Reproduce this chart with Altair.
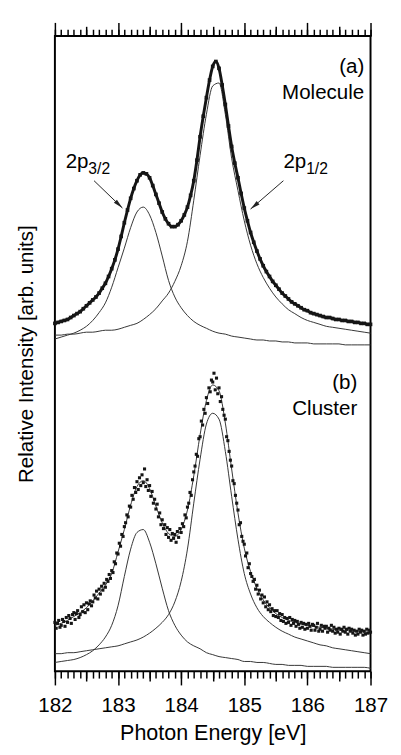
import altair as alt
import pandas as pd

# ---------------- data ----------------
# sample energies (eV)
E_MOL = [round(182 + 0.05 * i, 2) for i in range(101)]
E_FIT = [round(182 + 0.1 * i, 1) for i in range(51)]
E_CL = [round(182 + 0.02 * i, 2) for i in range(251)]

# (a) Molecule: measured points
MOL_DATA = [356, 357, 358, 359, 360, 362, 364, 366, 368, 371,
            374, 377, 380, 383, 387, 392, 397, 404, 412, 421,
            432, 445, 459, 472, 484, 494, 502, 508, 510, 509,
            505, 497, 488, 479, 470, 463, 458, 455, 455, 457,
            461, 467, 475, 487, 502, 523, 547, 568, 587, 605,
            619, 624, 617, 600, 580, 558, 537, 520, 505, 489,
            474, 461, 449, 439, 430, 422, 415, 409, 404, 399,
            395, 391, 387, 384, 381, 378, 376, 374, 372, 370,
            369, 367, 366, 365, 364, 363, 362, 362, 361, 360,
            360, 359, 359, 358, 358, 357, 357, 356, 356, 355,
            355]
# (a) Molecule: fitted components
MOL_P32 = [340, 342, 344, 346, 349, 353, 359, 367, 377, 393,
           413, 433, 454, 470, 475, 467, 449, 425, 400, 383,
           372, 364, 358, 354, 351, 348, 346, 345, 343, 342,
           341, 340, 339, 339, 338, 338, 337, 337, 336, 336,
           336, 335, 335, 335, 335, 335, 334, 334, 334, 334,
           334]
MOL_P12 = [344, 344, 345, 345, 346, 347, 347, 348, 349, 349,
           350, 352, 354, 356, 360, 365, 371, 379, 387, 399,
           415, 440, 482, 528, 570, 599, 602, 570, 525, 492,
           461, 436, 417, 403, 392, 383, 376, 370, 366, 362,
           359, 357, 355, 353, 352, 351, 350, 349, 348, 347,
           346]

# (b) Cluster: measured points
CL_DATA = [50, 44, 49, 52, 45, 47, 53, 51, 46, 55,
           50, 57, 54, 49, 58, 60, 53, 59, 62, 55,
           58, 66, 61, 68, 60, 70, 63, 69, 72, 67,
           71, 78, 75, 82, 74, 84, 79, 87, 83, 90,
           86, 94, 92, 99, 95, 103, 101, 112, 110, 121,
           120, 131, 128, 140, 138, 148, 152, 160, 158, 169,
           168, 180, 176, 188, 183, 194, 186, 198, 190, 201,
           193, 207, 189, 196, 185, 190, 179, 184, 172, 176,
           166, 171, 158, 162, 150, 155, 146, 150, 140, 147,
           137, 145, 134, 141, 136, 140, 132, 143, 137, 146,
           142, 151, 148, 160, 157, 168, 172, 183, 180, 196,
           204, 210, 222, 220, 238, 240, 256, 252, 268, 264,
           280, 274, 290, 286, 298, 296, 305, 288, 300, 284,
           290, 276, 281, 268, 262, 258, 240, 236, 225, 216,
           210, 195, 192, 180, 172, 165, 150, 152, 138, 133,
           130, 118, 121, 106, 110, 100, 97, 92, 94, 84,
           88, 79, 83, 74, 78, 70, 76, 66, 71, 63,
           68, 61, 64, 57, 62, 56, 62, 55, 59, 52,
           58, 51, 55, 49, 54, 50, 55, 47, 53, 49,
           52, 46, 51, 48, 44, 50, 45, 49, 43, 48,
           44, 49, 46, 42, 48, 47, 42, 45, 49, 41,
           43, 47, 41, 46, 44, 46, 40, 44, 42, 47,
           41, 45, 39, 43, 40, 44, 38, 43, 41, 45,
           40, 43, 38, 44, 41, 43, 39, 42, 37, 41,
           38, 43, 40, 42, 37, 41, 38, 43, 39, 42,
           40]
# (b) Cluster: fit and components
CL_FIT = [47, 49, 52, 56, 60, 65, 72, 80, 88, 100,
          122, 145, 170, 189, 195, 187, 169, 152, 141, 138,
          145, 165, 200, 242, 277, 293, 287, 254, 207, 162,
          126, 102, 85, 73, 65, 59, 55, 52, 50, 48,
          47, 46, 45, 44, 43, 42, 42, 41, 41, 40,
          40]
CL_P32 = [9, 10, 11, 12, 14, 17, 21, 27, 35, 47,
          67, 97, 125, 142, 145, 132, 110, 85, 62, 47,
          37, 30, 26, 23, 19, 17, 15, 14, 13, 12,
          10, 10, 9, 9, 8, 7, 7, 6, 6, 6,
          5, 5, 5, 5, 4, 4, 4, 4, 4, 4,
          3]
CL_P12 = [18, 18, 19, 19, 20, 21, 22, 23, 24, 25,
          26, 28, 30, 32, 35, 39, 44, 50, 58, 71,
          92, 125, 172, 217, 253, 264, 258, 225, 179, 135,
          100, 79, 65, 56, 50, 45, 41, 38, 35, 33,
          31, 29, 27, 26, 24, 23, 22, 21, 20, 19,
          18]

# tick values
X_MINOR = [round(182 + 0.1 * i, 1) for i in range(51)]
X_MID = [182.5, 183.5, 184.5, 185.5, 186.5]
X_MAJOR = [182, 183, 184, 185, 186, 187]

# annotations
LABELS = ["(a)", "Molecule", "(b)", "Cluster"]
LABEL_E = [186.9, 186.9, 186.79, 186.79]
LABEL_I = [618, 592, 295, 268]
PEAK_MAIN = ["2p", "2p"]
PEAK_SUB = ["3/2", "1/2"]
PEAK_E = [182.17, 185.62]
PEAK_SUB_E = [182.53, 185.98]
PEAK_I = [515, 515]
PEAK_SUB_I = [509, 509]
ARROW1_E = [182.62, 183.07]
ARROW1_I = [502, 474]
ARROW2_E = [185.62, 185.10]
ARROW2_I = [502, 473]

# ---------------- frames ----------------
mol_pts = pd.DataFrame({"E": E_MOL, "I": MOL_DATA})
mol_comp = pd.concat([
    pd.DataFrame({"E": E_FIT, "I": MOL_P32, "c": "p32"}),
    pd.DataFrame({"E": E_FIT, "I": MOL_P12, "c": "p12"}),
])
cl_pts = pd.DataFrame({"E": E_CL, "I": CL_DATA})
cl_fit = pd.DataFrame({"E": E_FIT, "I": CL_FIT})
cl_comp = pd.concat([
    pd.DataFrame({"E": E_FIT, "I": CL_P32, "c": "p32"}),
    pd.DataFrame({"E": E_FIT, "I": CL_P12, "c": "p12"}),
])
labels_df = pd.DataFrame({"E": LABEL_E, "I": LABEL_I, "t": LABELS})
main_df = pd.DataFrame({"E": PEAK_E, "I": PEAK_I, "t": PEAK_MAIN})
sub_df = pd.DataFrame({"E": PEAK_SUB_E, "I": PEAK_SUB_I, "t": PEAK_SUB})
arrows_df = pd.concat([
    pd.DataFrame({"E": ARROW1_E, "I": ARROW1_I, "a": "a1"}),
    pd.DataFrame({"E": ARROW2_E, "I": ARROW2_I, "a": "a2"}),
])
head1_df = pd.DataFrame({"E": ARROW1_E[1:], "I": ARROW1_I[1:]})
head2_df = pd.DataFrame({"E": ARROW2_E[1:], "I": ARROW2_I[1:]})

# ---------------- styling ----------------
FONT = "Liberation Sans"
FS = 21
W, H = 323, 650
xscale = alt.Scale(domain=[182, 187], nice=False, zero=False)
yscale = alt.Scale(domain=[0, 650], nice=False, zero=False)


def xaxis(orient, values, size, labels=False, title=None):
    kw = dict(orient=orient, values=values, tickSize=size, labels=labels,
              grid=False, domain=False, ticks=True, tickColor="black",
              tickWidth=1.5, title=title)
    if labels:
        kw.update(labelFontSize=FS, labelFont=FONT, labelPadding=10,
                  labelFlush=False, labelOverlap=False, labelColor="black",
                  format="d")
    if title:
        kw.update(titleFontSize=22, titleFont=FONT, titlePadding=8,
                  titleFontWeight="normal", titleColor="black")
    return alt.Axis(**kw)


yaxis = alt.Axis(title="Relative Intensity [arb. units]", labels=False,
                 ticks=False, domain=False, grid=False, titleFontSize=FS,
                 titleFont=FONT, titlePadding=19, titleFontWeight="normal",
                 titleColor="black", orient="left")


def X(axis):
    return alt.X("E:Q", scale=xscale, axis=axis)


def Y(axis=None):
    return alt.Y("I:Q", scale=yscale, axis=axis)


LINE = "#333333"
DOT = "#151515"

l_mol_comp = alt.Chart(mol_comp).mark_line(
    interpolate="monotone", color=LINE, strokeWidth=1).encode(
    x=X(xaxis("bottom", X_MAJOR, 14, labels=True, title="Photon Energy [eV]")),
    y=Y(yaxis), detail="c:N")

l_mol_line = alt.Chart(mol_pts).mark_line(
    interpolate="monotone", color=DOT, strokeWidth=3).encode(
    x=X(xaxis("bottom", X_MID, 10)), y=Y())

l_mol_pts = alt.Chart(mol_pts).mark_square(size=14, color=DOT, opacity=1).encode(
    x=X(xaxis("bottom", X_MINOR, 7)), y=Y())

l_cl_comp = alt.Chart(cl_comp).mark_line(
    interpolate="monotone", color=LINE, strokeWidth=1).encode(
    x=X(xaxis("top", X_MAJOR, 14)), y=Y(), detail="c:N")

l_cl_fit = alt.Chart(cl_fit).mark_line(
    interpolate="monotone", color=LINE, strokeWidth=1).encode(
    x=X(xaxis("top", X_MID, 10)), y=Y())

l_cl_pts = alt.Chart(cl_pts).mark_square(size=10, color=DOT, opacity=1).encode(
    x=X(xaxis("top", X_MINOR, 7)), y=Y())

l_labels = alt.Chart(labels_df).mark_text(
    align="right", baseline="middle", font=FONT, fontSize=FS, color="black").encode(
    x=X(None), y=Y(), text="t:N")

l_main = alt.Chart(main_df).mark_text(
    align="left", baseline="alphabetic", font=FONT, fontSize=FS, color="black").encode(
    x=X(None), y=Y(), text="t:N")

l_sub = alt.Chart(sub_df).mark_text(
    align="left", baseline="alphabetic", font=FONT, fontSize=16, color="black").encode(
    x=X(None), y=Y(), text="t:N")

l_arrows = alt.Chart(arrows_df).mark_line(color="#222222", strokeWidth=1).encode(
    x=X(None), y=Y(), detail="a:N")

ARROW_SHAPE = "M0,0L0.45,2L-0.45,2Z"
l_head1 = alt.Chart(head1_df).mark_point(
    shape=ARROW_SHAPE, size=100, filled=True, color="#222222", opacity=1,
    angle=134).encode(x=X(None), y=Y())
l_head2 = alt.Chart(head2_df).mark_point(
    shape=ARROW_SHAPE, size=100, filled=True, color="#222222", opacity=1,
    angle=230).encode(x=X(None), y=Y())

chart = alt.layer(
    l_mol_comp, l_mol_line, l_mol_pts, l_cl_comp, l_cl_fit, l_cl_pts,
    l_labels, l_main, l_sub, l_arrows, l_head1, l_head2,
).resolve_scale(x="shared", y="shared").resolve_axis(
    x="independent", y="independent").properties(
    width=W, height=H,
    padding={"left": 8, "top": 5, "right": 5, "bottom": 5},
    background="white",
).configure_view(stroke="black", strokeWidth=2)

chart.save("out.html", embed_options={"renderer": "svg", "actions": False})
